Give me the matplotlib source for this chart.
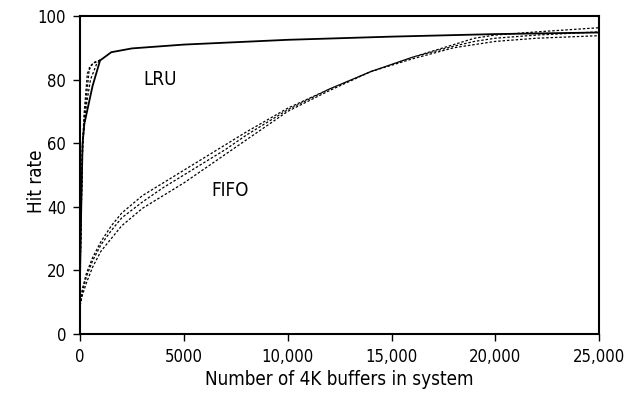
import matplotlib
matplotlib.use('Agg')
import matplotlib.pyplot as plt

plt.rcParams['font.family'] = ['DejaVu Sans']
plt.rcParams['font.stretch'] = 'condensed'

# LRU (сплошная)
lru_x = [0, 60, 120, 200, 600, 960, 1500, 2500, 5000, 10000, 15000, 20000, 25000]
lru_y = [20, 42, 60, 66, 78, 86, 88.6, 89.8, 91.0, 92.5, 93.5, 94.3, 94.8]

# LRU (пунктирные варианты)
lru_d1_x = [0, 100, 200, 450, 700, 1000]
lru_d1_y = [20, 55, 68, 84, 85.5, 86.2]
lru_d2_x = [0, 100, 200, 350, 600, 1000]
lru_d2_y = [20, 58, 70, 82, 85, 86.2]
lru_d3_x = [0, 120, 300, 500, 800, 1000]
lru_d3_y = [20, 60, 72, 80, 85, 86.2]

# FIFO (три пунктирные кривые)
fifo_x = [0, 100, 300, 600, 1000, 1500, 2000, 3000, 4000, 5000, 6000, 7000, 8000,
          10000, 12000, 14000, 16000, 18000, 19000, 20000, 22000, 25000]
fifo_top = [9, 14, 19, 24, 29, 34, 38, 43.5, 47.5, 51.5, 55.5, 59.5, 63.5,
            71, 77, 82.5, 87, 91, 93, 94, 95, 96.3]
fifo_mid = [9, 13, 18, 23, 28, 32.5, 36.5, 41.5, 46, 50, 54, 58, 62.5,
            70.5, 77, 82.5, 87, 90.5, 92, 93, 94, 95]
fifo_bot = [9, 12, 16, 21, 26, 30, 34, 39.5, 43.5, 47.5, 52, 56.5, 61,
            70, 76.5, 82.5, 86.5, 90, 91, 92, 93, 93.8]

xticks = [0, 5000, 10000, 15000, 20000, 25000]
xlabels = ['0', '5000', '10,000', '15,000', '20,000', '25,000']
yticks = [0, 20, 40, 60, 80, 100]

fig = plt.figure(figsize=(6.26, 3.99), dpi=100)
ax = fig.add_axes([0.128, 0.163, 0.829, 0.797])

dash = (0, (2, 1.5))
ax.plot(lru_x, lru_y, color='black', linewidth=1.3)
for xs, ys in [(lru_d1_x, lru_d1_y), (lru_d2_x, lru_d2_y), (lru_d3_x, lru_d3_y)]:
    ax.plot(xs, ys, color='black', linewidth=0.9, linestyle=dash)
for ys in [fifo_top, fifo_mid, fifo_bot]:
    ax.plot(fifo_x, ys, color='black', linewidth=0.9, linestyle=dash)

ax.text(3850, 80, 'LRU', fontsize=13.5, ha='center', va='center')
ax.text(7230, 45, 'FIFO', fontsize=13.5, ha='center', va='center')

ax.set_xlim(0, 25000)
ax.set_ylim(0, 100)
ax.set_xticks(xticks)
ax.set_xticklabels(xlabels)
ax.set_yticks(yticks)
ax.tick_params(direction='out', length=5, width=1, labelsize=12, pad=5)
for s in ax.spines.values():
    s.set_linewidth(1.5)

ax.set_xlabel('Number of 4K buffers in system', fontsize=13.5, labelpad=3)
ax.set_ylabel('Hit rate', fontsize=13.5)
ax.yaxis.set_label_coords(-0.066, 0.48)

plt.savefig('out.png', dpi=100)
